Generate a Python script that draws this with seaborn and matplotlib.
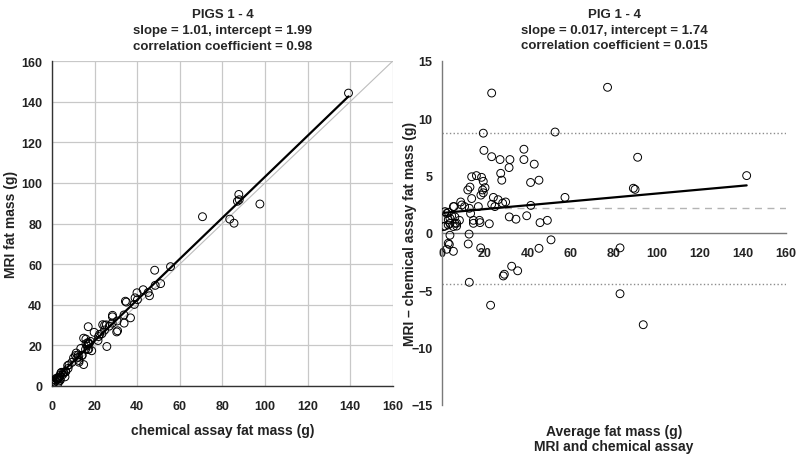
import numpy as np
import pandas as pd
import matplotlib
matplotlib.use('Agg')
import matplotlib.pyplot as plt
from matplotlib import font_manager
import seaborn as sns

# Bland-Altman readings: average of MRI and chemical assay (g), and MRI - chemical (g)
avg_mass = [23.1, 77.0, 19.2, 52.6, 19.5, 23.1, 27.0, 31.6, 38.1, 38.1,
            42.9, 31.2, 27.3, 27.8, 41.2, 45.1, 57.2, 41.3, 39.4, 31.3,
            34.4, 45.6, 49.0, 22.0, 29.6, 23.9, 26.1, 23.1, 24.6, 28.2,
            13.8, 16.0, 18.4, 19.2, 13.0, 12.0, 18.9, 20.0, 18.1, 19.2,
            13.8, 8.7, 10.5, 12.7, 16.9, 13.3, 14.6, 17.4, 17.7, 14.6,
            5.6, 2.2, 4.5, 6.05, 6.8, 1.4, 3.7, 5.3, 2.95, 3.7,
            12.6, 3.4, 12.2, 5.3, 18.0, 45.1, 50.7, 32.4, 35.2, 28.5,
            29.0, 12.7, 22.6, 82.8, 82.8, 93.6, 91.0, 89.0, 89.8, 141.7,
            1.4, 2.9, 5.3, 9.2, 6.0, 3.7, 8.1, 2.9, 0.6, 2.2,
            2.9, 6.8]
diff_mass = [12.2, 12.7, 8.7, 8.8, 7.2, 6.65, 6.4, 6.4, 7.3, 6.4,
             6.0, 5.7, 5.2, 4.6, 4.4, 4.6, 3.1, 2.4, 1.5, 1.4,
             1.2, 0.9, 1.1, 0.8, 2.7, 3.1, 2.9, 2.5, 2.3, 2.6,
             4.9, 5.0, 4.85, 4.5, 4.0, 3.75, 3.75, 3.95, 3.3, 3.5,
             3.0, 2.7, 2.3, 2.15, 2.3, 1.7, 1.1, 1.1, 0.9, 0.84,
             2.3, 1.7, 1.5, 0.84, 0.6, 0.6, 0.84, 0.56, 1.16, -0.2,
             -0.1, -1.0, -0.96, -1.6, -1.3, -1.34, -0.6, -2.9, -3.3, -3.75,
             -3.6, -4.3, -6.3, -5.3, -1.3, -8.0, 6.6, 3.9, 3.8, 5.0,
             1.86, 1.8, 2.3, 2.44, 1.4, 1.28, 1.1, 0.7, 0.55, -1.42,
             -0.9, 0.85]

left_slope, left_intercept = 1.01, 1.99
right_slope, right_intercept = 0.017, 1.74
mean_diff, upper_loa, lower_loa = 2.15, 8.75, -4.45

left_title = 'PIGS 1 - 4\nslope = 1.01, intercept = 1.99\ncorrelation coefficient = 0.98'
right_title = 'PIG 1 - 4\nslope = 0.017, intercept = 1.74\ncorrelation coefficient = 0.015'

df = pd.DataFrame({'avg': avg_mass, 'diff': diff_mass})
df['chem'] = df['avg'] - df['diff'] / 2
df['mri'] = df['avg'] + df['diff'] / 2

sns.set_style('white')
plt.rcParams['font.family'] = ['Liberation Sans', 'DejaVu Sans']
plt.rcParams['font.weight'] = 'bold'

# the titles use a narrow face; pick one if the system has it
names = {f.name for f in font_manager.fontManager.ttflist}
if 'Liberation Sans Narrow' in names:
    title_kw = dict(family='Liberation Sans Narrow', fontsize=10.5)
else:
    title_kw = dict(family='Liberation Sans', fontsize=9.5)

fig = plt.figure(figsize=(8, 4.6), dpi=100)
ax1 = fig.add_axes([0.065, 0.1587, 0.426, 0.7065])
ax2 = fig.add_axes([0.5525, 0.1174, 0.43, 0.748])

# ---- left panel: MRI vs chemical
ax1.grid(True, color='#c8c8c8', linewidth=0.9)
ax1.set_axisbelow(True)
sns.lineplot(x=[0, 160], y=[0, 160], color='#bdbdbd', linewidth=0.8, ax=ax1)
xfit = np.array([df['chem'].min(), df['chem'].max()])
sns.lineplot(x=xfit, y=left_slope * xfit + left_intercept, color='black', linewidth=1.6, ax=ax1)
sns.scatterplot(data=df, x='chem', y='mri', marker='o', s=32, fc='none', ec='black',
                linewidth=0.7, ax=ax1, zorder=3)
ax1.set_xlim(0, 160)
ax1.set_ylim(0, 160)
ax1.set_xticks(range(0, 161, 20))
ax1.set_yticks(range(0, 161, 20))
for s in ['top', 'right']:
    ax1.spines[s].set_visible(False)
for s in ['left', 'bottom']:
    ax1.spines[s].set_color('#333333')
    ax1.spines[s].set_linewidth(1.0)
ax1.tick_params(axis='x', direction='inout', length=6, width=0.8, pad=7, labelsize=9, colors='#333333', labelcolor='#222222')
ax1.tick_params(axis='y', direction='out', length=4, width=0.8, pad=3, labelsize=9, colors='#333333', labelcolor='#222222')
ax1.set_xlabel('chemical assay fat mass (g)', fontsize=10, fontweight='bold', color='#222222')
ax1.set_ylabel('MRI fat mass (g)', fontsize=10, fontweight='bold', color='#222222')
ax1.xaxis.set_label_coords(0.5, -0.115)
ax1.yaxis.set_label_coords(-0.1, 0.5)
ax1.set_title(left_title, fontweight='bold', pad=9, linespacing=1.4, **title_kw)

# ---- right panel: difference vs average
ax2.axhline(upper_loa, color='#8c8c8c', linestyle=':', linewidth=1.0)
ax2.axhline(lower_loa, color='#8c8c8c', linestyle=':', linewidth=1.0)
ax2.axhline(mean_diff, color='#b4b4b4', linestyle=(0, (5, 4)), linewidth=1.0)
xfit2 = np.array([df['avg'].min(), df['avg'].max()])
sns.lineplot(x=xfit2, y=right_slope * xfit2 + right_intercept, color='black', linewidth=1.6, ax=ax2)
sns.scatterplot(data=df, x='avg', y='diff', marker='o', s=32, fc='none', ec='black',
                linewidth=0.7, ax=ax2, zorder=3)
ax2.set_xlim(0, 160)
ax2.set_ylim(-15, 15)
ax2.set_xticks(range(0, 161, 20))
ax2.set_yticks(range(-15, 16, 5))
ax2.spines['top'].set_visible(False)
ax2.spines['right'].set_visible(False)
ax2.spines['bottom'].set_position(('data', 0))
for s in ['left', 'bottom']:
    ax2.spines[s].set_color('#7a7a7a')
    ax2.spines[s].set_linewidth(1.0)
ax2.tick_params(axis='x', direction='inout', length=6, width=0.8, pad=7, labelsize=9, colors='#7a7a7a', labelcolor='#222222')
ax2.tick_params(axis='y', direction='out', length=4, width=0.8, pad=3, labelsize=9, colors='#7a7a7a', labelcolor='#222222')
ax2.set_xlabel('Average fat mass (g)\nMRI and chemical assay', fontsize=10, fontweight='bold', color='#222222', linespacing=1.1)
ax2.set_ylabel('MRI \u2013 chemical assay fat mass (g)', fontsize=10, fontweight='bold', color='#222222')
ax2.xaxis.set_label_coords(0.5, -0.055)
ax2.yaxis.set_label_coords(-0.072, 0.5)
ax2.set_title(right_title, fontweight='bold', pad=9, linespacing=1.4, **title_kw)

fig.savefig('out.png', dpi=100)
